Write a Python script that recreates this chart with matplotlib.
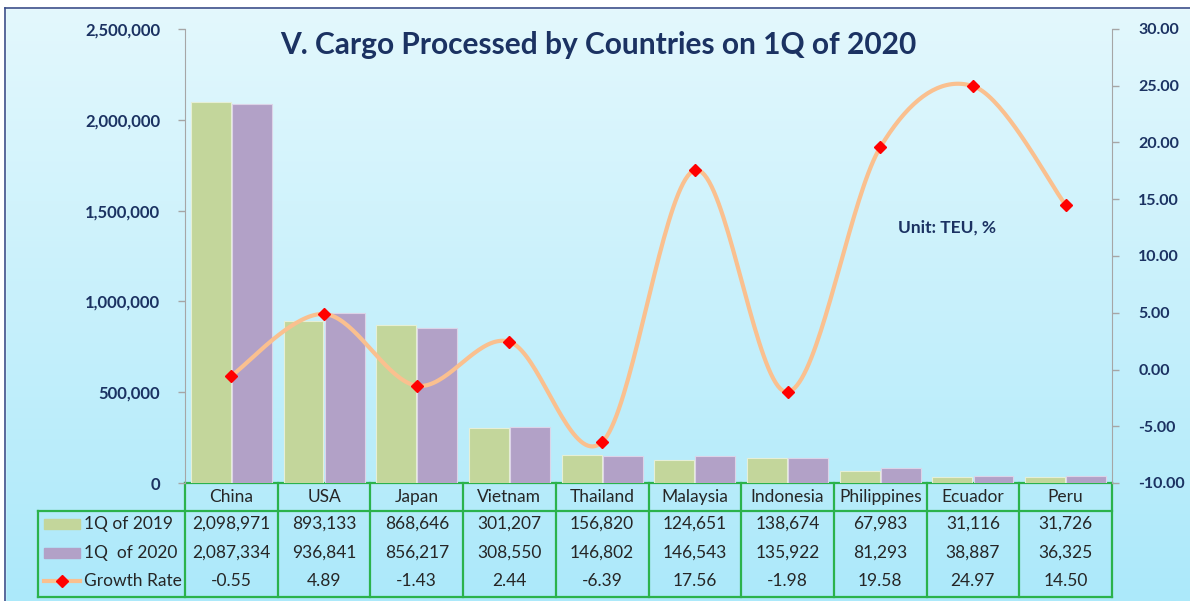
import numpy as np
import matplotlib.pyplot as plt
from matplotlib.colors import LinearSegmentedColormap
from matplotlib.patches import Rectangle
from matplotlib.ticker import FuncFormatter

# data
countries = ['China', 'USA', 'Japan', 'Vietnam', 'Thailand', 'Malaysia',
             'Indonesia', 'Philippines', 'Ecuador', 'Peru']
cargo_2019 = [2098971, 893133, 868646, 301207, 156820, 124651, 138674, 67983, 31116, 31726]
cargo_2020 = [2087334, 936841, 856217, 308550, 146802, 146543, 135922, 81293, 38887, 36325]
growth = [-0.55, 4.89, -1.43, 2.44, -6.39, 17.56, -1.98, 19.58, 24.97, 14.50]
row_labels = ['1Q of 2019', '1Q  of 2020', 'Growth Rate']

plt.rcParams['font.family'] = ['Lato', 'DejaVu Sans']

W, H = 1190, 601
NAVY = '#1b3262'
GREEN_BAR = '#c3d69b'
PURPLE_BAR = '#b2a1c7'
LINE_C = '#fac08f'
GRID_G = '#2bb24c'
AX_GRAY = '#a6a6a6'
TXT = '#262626'

fig = plt.figure(figsize=(11.9, 6.01), dpi=100)

# background in pixel coordinates
bg = fig.add_axes([0, 0, 1, 1])
bg.set_xlim(0, W)
bg.set_ylim(H, 0)
bg.set_axis_off()
cmap = LinearSegmentedColormap.from_list('bg', ['#e4f8fd', '#ace9fa'])
bg.imshow(np.linspace(0, 1, 256)[:, None], cmap=cmap, aspect='auto',
          extent=(0, W, H, 0), zorder=0)
bg.add_patch(Rectangle((0, 0), W, 8, color='white', zorder=1))
bg.add_patch(Rectangle((0, 0), 5, H, color='white', zorder=1))
bg.plot([5, W], [8, 8], color='#3c4f8a', lw=1.2, zorder=2)
bg.plot([5, 5], [8, H], color='#3c4f8a', lw=1.2, zorder=2)

# main chart
L, R, T, B = 185, 1112, 29, 483
ax = fig.add_axes([L / W, 1 - B / H, (R - L) / W, (B - T) / H])
ax.patch.set_alpha(0)
x = np.arange(len(countries))
ax.bar(x - 0.222, cargo_2019, 0.43, color=GREEN_BAR, edgecolor='#e6efd6', lw=0.8, zorder=2)
ax.bar(x + 0.222, cargo_2020, 0.43, color=PURPLE_BAR, edgecolor='#dcd4e8', lw=0.8, zorder=2)
ax.set_xlim(-0.5, len(countries) - 0.5)
ax.set_ylim(0, 2500000)
ax.set_yticks(np.arange(0, 2500001, 500000))
ax.yaxis.set_major_formatter(FuncFormatter(lambda v, p: f'{int(v):,}'))
ax.set_xticks([])
for s in ['top', 'bottom', 'right']:
    ax.spines[s].set_visible(False)
ax.spines['left'].set_color(AX_GRAY)
ax.tick_params(axis='y', colors=AX_GRAY, length=5, width=1, pad=13)
for t in ax.get_yticklabels():
    t.set_color(NAVY)
    t.set_fontweight('bold')
    t.set_fontsize(12)

ax2 = ax.twinx()
ax2.set_ylim(-10, 30)
ax2.set_yticks(np.arange(-10, 31, 5))
ax2.yaxis.set_major_formatter(FuncFormatter(lambda v, p: f'{v:.2f}'))
for s in ['top', 'bottom', 'left']:
    ax2.spines[s].set_visible(False)
ax2.spines['right'].set_color(AX_GRAY)
ax2.tick_params(axis='y', colors=AX_GRAY, length=5, width=1, pad=14)
for t in ax2.get_yticklabels():
    t.set_color(NAVY)
    t.set_fontweight('bold')
    t.set_fontsize(11.5)

# smoothed line like Excel (Catmull-Rom bezier, in pixel scale)
sx = (R - L) / len(countries)
sy = (B - T) / 40.0
P = np.column_stack([x * sx, np.array(growth) * sy])
Pp = np.vstack([P[0], P, P[-1]])
t = np.linspace(0, 1, 40)[:, None]
curve = []
for i in range(len(P) - 1):
    p0, p1, p2, p3 = Pp[i], Pp[i + 1], Pp[i + 2], Pp[i + 3]
    c1 = p1 + (p2 - p0) / 6
    c2 = p2 - (p3 - p1) / 6
    seg = ((1 - t) ** 3) * p1 + 3 * ((1 - t) ** 2) * t * c1 + 3 * (1 - t) * t ** 2 * c2 + t ** 3 * p2
    curve.append(seg)
curve = np.vstack(curve)
ax2.plot(curve[:, 0] / sx, curve[:, 1] / sy, color=LINE_C, lw=3, zorder=3)
ax2.plot(x, growth, ls='none', marker='D', ms=6, color='#ff0000', zorder=4)

bg.text(598, 45, 'V. Cargo Processed by Countries on 1Q of 2020', ha='center', va='center',
        fontsize=21.5, fontweight='bold', color=NAVY, zorder=5)
bg.text(898, 228, 'Unit: TEU, %', ha='left', va='center', fontsize=12.5,
        fontweight='bold', color=NAVY, zorder=5)

# data table
tl, hy, r1, tb = 38, 483, 511, 597
cw = (R - L) / len(countries)
lw_t = 1.6
bg.plot([L, R], [hy, hy], color=GRID_G, lw=lw_t, zorder=5)
bg.plot([tl, R], [r1, r1], color=GRID_G, lw=lw_t, zorder=5)
bg.plot([tl, R], [tb, tb], color=GRID_G, lw=lw_t, zorder=5)
bg.plot([tl, tl], [r1, tb], color=GRID_G, lw=lw_t, zorder=5)
for i in range(len(countries) + 1):
    xx = L + i * cw
    bg.plot([xx, xx], [hy, tb], color=GRID_G, lw=lw_t, zorder=5)

row_y = [524, 553, 581]
rows = [[f'{v:,}' for v in cargo_2019],
        [f'{v:,}' for v in cargo_2020],
        [f'{v:.2f}' for v in growth]]
for i, c in enumerate(countries):
    cx = L + (i + 0.5) * cw
    bg.text(cx, 497, c, ha='center', va='center', fontsize=12.5, color=TXT, zorder=6)
    for ry, vals in zip(row_y, rows):
        bg.text(cx, ry, vals[i], ha='center', va='center', fontsize=12.5, color=TXT, zorder=6)

for ry, lab in zip(row_y, row_labels):
    bg.text(84, ry, lab, ha='left', va='center', fontsize=12.5, color=TXT, zorder=6)
bg.add_patch(Rectangle((44, row_y[0] - 5), 36, 10, color=GREEN_BAR, zorder=6))
bg.add_patch(Rectangle((44, row_y[1] - 5), 36, 10, color=PURPLE_BAR, zorder=6))
bg.plot([44, 80], [row_y[2], row_y[2]], color=LINE_C, lw=3, zorder=6)
bg.plot([62], [row_y[2]], marker='D', ms=6, color='#ff0000', zorder=7)

fig.savefig('out.png', dpi=100)
